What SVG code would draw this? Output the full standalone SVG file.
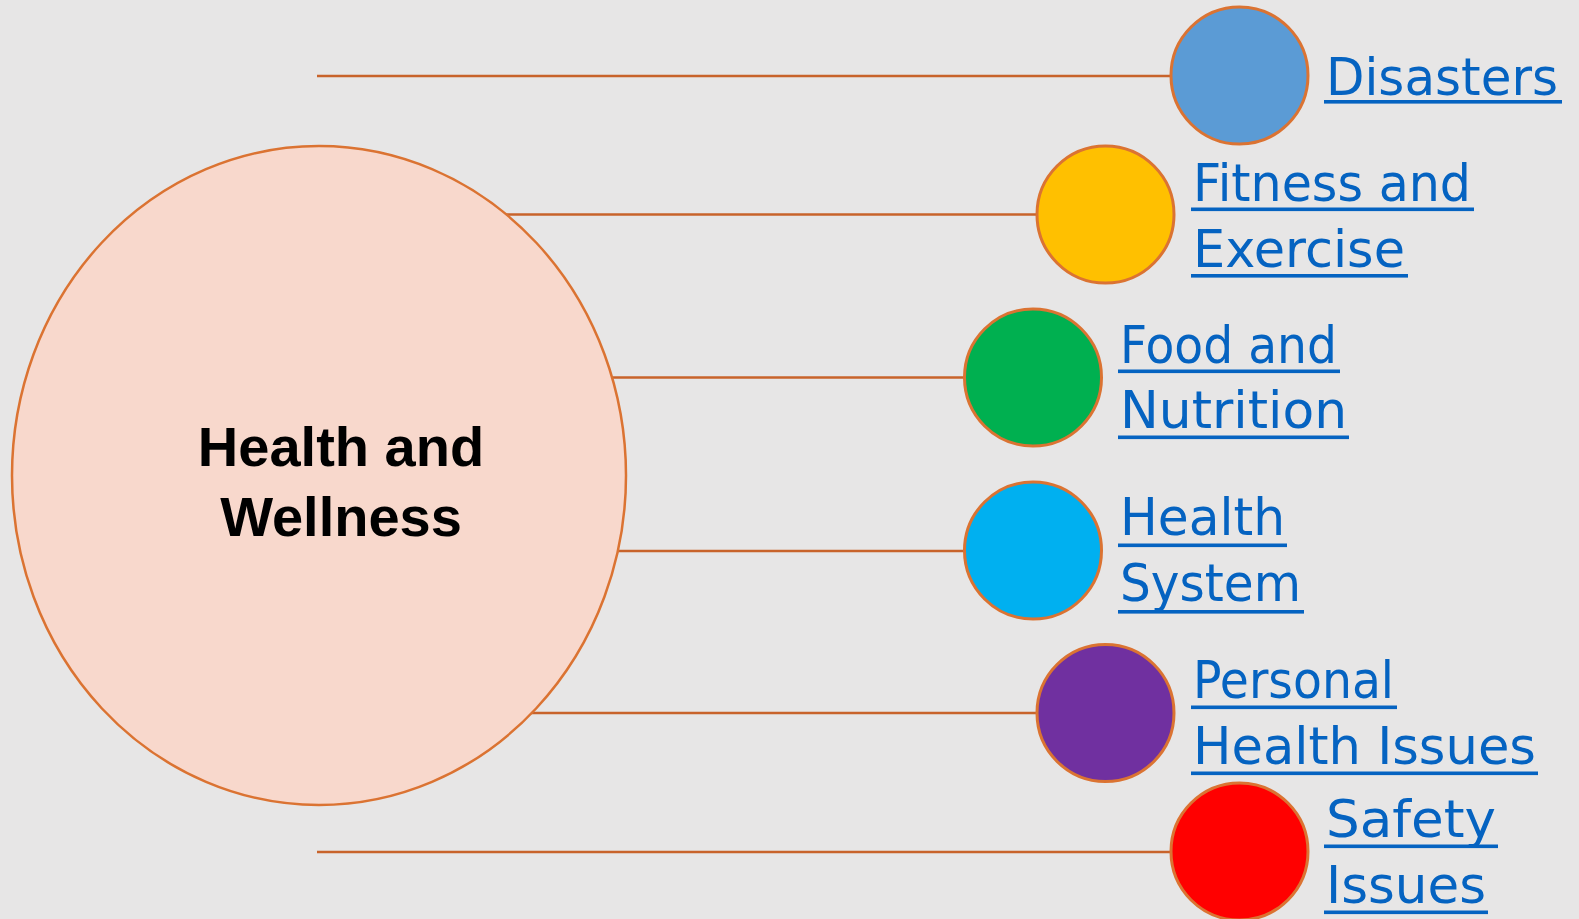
<svg xmlns="http://www.w3.org/2000/svg" width="1579" height="919" viewBox="0 0 1579 919">
  <style>
    .conn { stroke: #C8632B; stroke-width: 2.5; fill: none; }
    .node { stroke: #DB7332; stroke-width: 3; }
    .lbl { font-family: "Comic Sans MS", "DejaVu Sans", sans-serif; font-size: 52px; fill: #0563C1; }
    .ul { fill: #0563C1; }
    .title { font-family: "Liberation Sans", Arial, sans-serif; font-size: 56px; font-weight: bold; fill: #000000; text-anchor: middle; }
  </style>
  <rect x="0" y="0" width="1579" height="919" fill="#E7E6E6"/>

  <g id="connectors">
    <line class="conn" x1="317" y1="76" x2="1171" y2="76"/>
    <line class="conn" x1="506" y1="214.5" x2="1037" y2="214.5"/>
    <line class="conn" x1="612" y1="377.5" x2="965" y2="377.5"/>
    <line class="conn" x1="618" y1="551" x2="965" y2="551"/>
    <line class="conn" x1="530" y1="713" x2="1037" y2="713"/>
    <line class="conn" x1="317" y1="852" x2="1171" y2="852"/>
  </g>

  <g id="center">
    <ellipse cx="319" cy="475.5" rx="307" ry="329.5" fill="#F8D8CC" stroke="#DB7332" stroke-width="2.5"/>
    <text class="title" x="341" y="466">Health and</text>
    <text class="title" x="341" y="536">Wellness</text>
  </g>

  <g id="disasters">
    <circle class="node" cx="1239.5" cy="75.5" r="68.5" fill="#5B9BD5"/>
    <text class="lbl" x="1326" y="95" textLength="232" lengthAdjust="spacingAndGlyphs">Disasters</text>
    <rect class="ul" x="1324" y="100" width="238" height="3.6"/>
  </g>

  <g id="fitness">
    <circle class="node" cx="1105.5" cy="214.5" r="68.5" fill="#FFC000"/>
    <text class="lbl" x="1193" y="201" textLength="278" lengthAdjust="spacingAndGlyphs">Fitness and</text>
    <rect class="ul" x="1191" y="207.5" width="283" height="3.6"/>
    <text class="lbl" x="1193" y="267" textLength="212" lengthAdjust="spacingAndGlyphs">Exercise</text>
    <rect class="ul" x="1191" y="274" width="217" height="3.6"/>
  </g>

  <g id="food">
    <circle class="node" cx="1033" cy="377.5" r="68.5" fill="#00B050"/>
    <text class="lbl" x="1120" y="363" textLength="217" lengthAdjust="spacingAndGlyphs">Food and</text>
    <rect class="ul" x="1118" y="369.5" width="222" height="3.6"/>
    <text class="lbl" x="1120" y="428" textLength="227" lengthAdjust="spacingAndGlyphs">Nutrition</text>
    <rect class="ul" x="1118" y="435.5" width="231" height="3.6"/>
  </g>

  <g id="health-system">
    <circle class="node" cx="1033" cy="550.5" r="68.5" fill="#00B0F0"/>
    <text class="lbl" x="1120" y="535" textLength="165" lengthAdjust="spacingAndGlyphs">Health</text>
    <rect class="ul" x="1118" y="543.5" width="169" height="3.6"/>
    <text class="lbl" x="1120" y="601" textLength="181" lengthAdjust="spacingAndGlyphs">System</text>
    <rect class="ul" x="1118" y="610" width="186" height="3.6"/>
  </g>

  <g id="personal">
    <circle class="node" cx="1105.5" cy="713" r="68.5" fill="#7030A0"/>
    <text class="lbl" x="1193" y="698" textLength="201" lengthAdjust="spacingAndGlyphs">Personal</text>
    <rect class="ul" x="1191" y="705.5" width="206" height="3.6"/>
    <text class="lbl" x="1193" y="764" textLength="343" lengthAdjust="spacingAndGlyphs">Health Issues</text>
    <rect class="ul" x="1191" y="771.5" width="347" height="3.6"/>
  </g>

  <g id="safety">
    <circle class="node" cx="1239.5" cy="851.5" r="68.5" fill="#FF0000"/>
    <text class="lbl" x="1326" y="837" textLength="170" lengthAdjust="spacingAndGlyphs">Safety</text>
    <rect class="ul" x="1324" y="844.5" width="174" height="3.6"/>
    <text class="lbl" x="1326" y="903" textLength="160" lengthAdjust="spacingAndGlyphs">Issues</text>
    <rect class="ul" x="1324" y="910.5" width="164" height="3.6"/>
  </g>
</svg>
